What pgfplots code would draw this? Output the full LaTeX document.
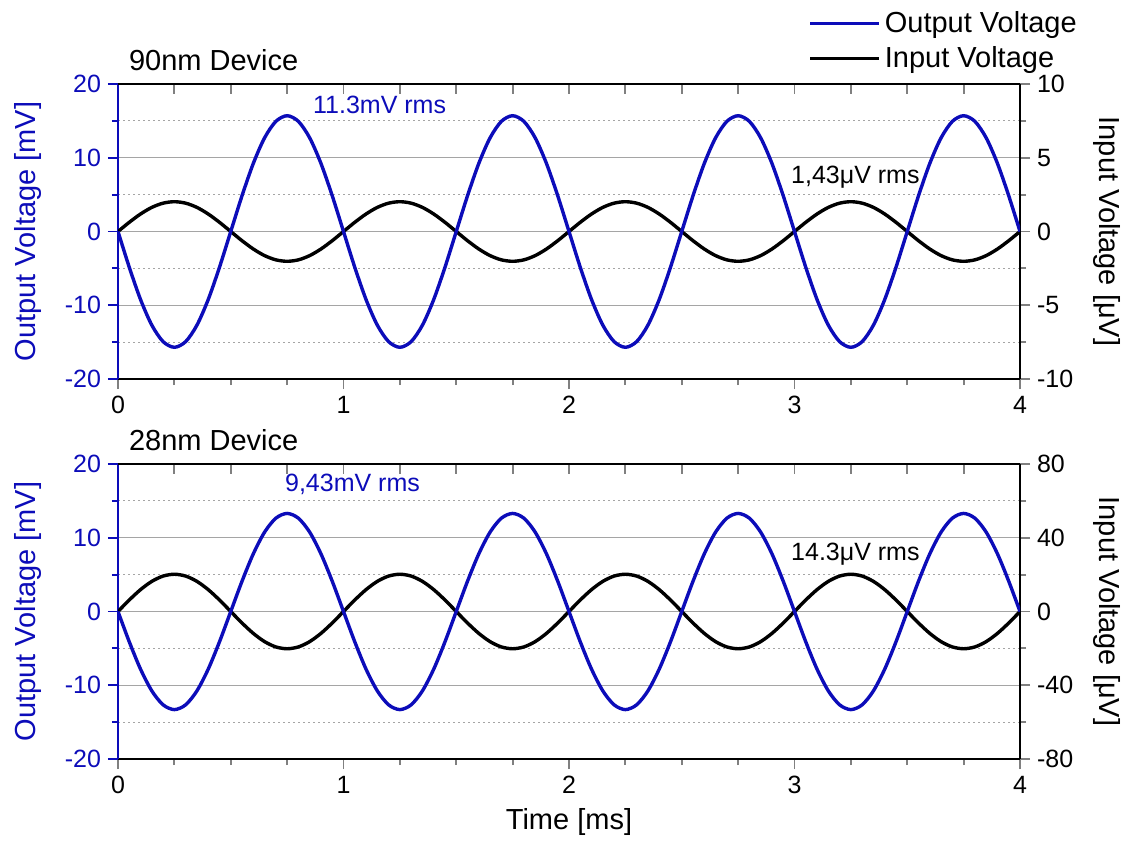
\documentclass[border=0pt]{standalone}
\usepackage{fontspec}
\setmainfont{Liberation Sans}
\usepackage{pgfplots}
\usepackage{pgfplotstable}
\pgfplotsset{compat=1.18}

\definecolor{outblue}{RGB}{12,12,185}
\definecolor{gridgray}{RGB}{165,165,165}

% 90 nm device: time [ms], output [mV], input [uV]
\pgfplotstableread{
t vout vin
0.00 0 0
0.05 -4.85 0.624
0.10 -9.23 1.187
0.15 -12.70 1.634
0.20 -14.93 1.921
0.25 -15.70 2.020
0.30 -14.93 1.921
0.35 -12.70 1.634
0.40 -9.23 1.187
0.45 -4.85 0.624
0.50 0 0
0.55 4.85 -0.624
0.60 9.23 -1.187
0.65 12.70 -1.634
0.70 14.93 -1.921
0.75 15.70 -2.020
0.80 14.93 -1.921
0.85 12.70 -1.634
0.90 9.23 -1.187
0.95 4.85 -0.624
1.00 0 0
1.05 -4.85 0.624
1.10 -9.23 1.187
1.15 -12.70 1.634
1.20 -14.93 1.921
1.25 -15.70 2.020
1.30 -14.93 1.921
1.35 -12.70 1.634
1.40 -9.23 1.187
1.45 -4.85 0.624
1.50 0 0
1.55 4.85 -0.624
1.60 9.23 -1.187
1.65 12.70 -1.634
1.70 14.93 -1.921
1.75 15.70 -2.020
1.80 14.93 -1.921
1.85 12.70 -1.634
1.90 9.23 -1.187
1.95 4.85 -0.624
2.00 0 0
2.05 -4.85 0.624
2.10 -9.23 1.187
2.15 -12.70 1.634
2.20 -14.93 1.921
2.25 -15.70 2.020
2.30 -14.93 1.921
2.35 -12.70 1.634
2.40 -9.23 1.187
2.45 -4.85 0.624
2.50 0 0
2.55 4.85 -0.624
2.60 9.23 -1.187
2.65 12.70 -1.634
2.70 14.93 -1.921
2.75 15.70 -2.020
2.80 14.93 -1.921
2.85 12.70 -1.634
2.90 9.23 -1.187
2.95 4.85 -0.624
3.00 0 0
3.05 -4.85 0.624
3.10 -9.23 1.187
3.15 -12.70 1.634
3.20 -14.93 1.921
3.25 -15.70 2.020
3.30 -14.93 1.921
3.35 -12.70 1.634
3.40 -9.23 1.187
3.45 -4.85 0.624
3.50 0 0
3.55 4.85 -0.624
3.60 9.23 -1.187
3.65 12.70 -1.634
3.70 14.93 -1.921
3.75 15.70 -2.020
3.80 14.93 -1.921
3.85 12.70 -1.634
3.90 9.23 -1.187
3.95 4.85 -0.624
4.00 0 0
}\topdata

% 28 nm device: time [ms], output [mV], input [uV]
\pgfplotstableread{
t vout vin
0.00 0 0
0.05 -4.11 6.24
0.10 -7.82 11.87
0.15 -10.76 16.34
0.20 -12.65 19.21
0.25 -13.30 20.20
0.30 -12.65 19.21
0.35 -10.76 16.34
0.40 -7.82 11.87
0.45 -4.11 6.24
0.50 0 0
0.55 4.11 -6.24
0.60 7.82 -11.87
0.65 10.76 -16.34
0.70 12.65 -19.21
0.75 13.30 -20.20
0.80 12.65 -19.21
0.85 10.76 -16.34
0.90 7.82 -11.87
0.95 4.11 -6.24
1.00 0 0
1.05 -4.11 6.24
1.10 -7.82 11.87
1.15 -10.76 16.34
1.20 -12.65 19.21
1.25 -13.30 20.20
1.30 -12.65 19.21
1.35 -10.76 16.34
1.40 -7.82 11.87
1.45 -4.11 6.24
1.50 0 0
1.55 4.11 -6.24
1.60 7.82 -11.87
1.65 10.76 -16.34
1.70 12.65 -19.21
1.75 13.30 -20.20
1.80 12.65 -19.21
1.85 10.76 -16.34
1.90 7.82 -11.87
1.95 4.11 -6.24
2.00 0 0
2.05 -4.11 6.24
2.10 -7.82 11.87
2.15 -10.76 16.34
2.20 -12.65 19.21
2.25 -13.30 20.20
2.30 -12.65 19.21
2.35 -10.76 16.34
2.40 -7.82 11.87
2.45 -4.11 6.24
2.50 0 0
2.55 4.11 -6.24
2.60 7.82 -11.87
2.65 10.76 -16.34
2.70 12.65 -19.21
2.75 13.30 -20.20
2.80 12.65 -19.21
2.85 10.76 -16.34
2.90 7.82 -11.87
2.95 4.11 -6.24
3.00 0 0
3.05 -4.11 6.24
3.10 -7.82 11.87
3.15 -10.76 16.34
3.20 -12.65 19.21
3.25 -13.30 20.20
3.30 -12.65 19.21
3.35 -10.76 16.34
3.40 -7.82 11.87
3.45 -4.11 6.24
3.50 0 0
3.55 4.11 -6.24
3.60 7.82 -11.87
3.65 10.76 -16.34
3.70 12.65 -19.21
3.75 13.30 -20.20
3.80 12.65 -19.21
3.85 10.76 -16.34
3.90 7.82 -11.87
3.95 4.11 -6.24
4.00 0 0
}\botdata

\pgfplotsset{
  panel/.style={
    scale only axis, width=451pt, height=147.5pt,
    xmin=0, xmax=4,
    /pgf/number format/assume math mode=true,
    tick label style={font=\fontsize{12.5}{14}\selectfont},
    major tick length=5pt, minor tick length=3pt,
    tick align=outside,
    axis line style={line width=1.2pt},
    tick style={line width=0.9pt},
  },
  leftpanel/.style={
    panel, ymin=-20, ymax=20,
    axis x line*=bottom, axis y line*=left,
    xtick={0,1,2,3,4}, minor x tick num=3,
    ytick={-20,-10,0,10,20}, minor y tick num=1,
    ymajorgrids, yminorgrids,
    major grid style={gridgray, line width=0.5pt},
    minor grid style={gridgray, line width=0.5pt, dash pattern=on 1pt off 1.5pt},
    y axis line style={outblue},
    yticklabel style={text=outblue},
    ytick style={outblue},
    ylabel={Output Voltage [mV]},
    every axis y label/.style={at={(axis description cs:-0.100,0.5)}, rotate=90, anchor=center,
      font=\fontsize{14.5}{17}\selectfont, text=outblue},
    clip=false,
  },
  rightpanel/.style={
    panel, axis x line=none, axis y line*=right,
    minor y tick num=1,
    ylabel={Input Voltage [μV]},
    every axis y label/.style={at={(axis description cs:1.0965,0.5)}, rotate=-90, anchor=center,
      font=\fontsize{14.5}{17}\selectfont},
  },
  toppanel/.style={
    panel, ymin=-20, ymax=20,
    axis y line=none, axis x line*=top,
    xtick={0.25,0.5,...,3.75}, xticklabels={},
    tick align=inside,
  },
  curve/.style={line width=1.7pt, smooth},
}

\begin{document}
\begin{tikzpicture}
\path[use as bounding box] (0,0) rectangle (564.5pt,421.5pt);

% ---------- 90 nm device ----------
\begin{axis}[leftpanel, at={(59pt,232pt)}, anchor=south west]
  \node[anchor=base west, font=\fontsize{14.5}{17}\selectfont]
    at (axis description cs:0.0044,1.047) {90nm Device};
\end{axis}
\begin{axis}[rightpanel, at={(59pt,232pt)}, anchor=south west,
    ymin=-10, ymax=10, ytick={-10,-5,0,5,10}]
  \addplot[black, curve] table[x=t, y=vin] {\topdata};
  \node[font=\fontsize{12.5}{14}\selectfont] at (axis cs:3.27,3.65) {1,43μV rms};
\end{axis}
\begin{axis}[toppanel, at={(59pt,232pt)}, anchor=south west,
    legend style={at={(axis description cs:0.765,1.03)}, anchor=south west,
      draw=none, fill=none, inner sep=0pt, font=\fontsize{14.5}{17}\selectfont,
      legend cell align=left, row sep=1.5pt},
    legend image code/.code={\draw[#1] (0pt,0pt) -- (34.5pt,0pt);}]
  \addplot[outblue, curve] table[x=t, y=vout] {\topdata};
  \addlegendentry{Output Voltage}
  \addlegendimage{black, line width=1.5pt}
  \addlegendentry{Input Voltage}
  \node[text=outblue, font=\fontsize{12.5}{14}\selectfont] at (axis cs:1.16,17.1) {11.3mV rms};
\end{axis}

% ---------- 28 nm device ----------
\begin{axis}[leftpanel, at={(59pt,42pt)}, anchor=south west,
    xlabel={Time [ms]},
    every axis x label/.style={at={(axis description cs:0.5,-0.2136)}, anchor=center,
      font=\fontsize{14.5}{17}\selectfont}]
  \node[anchor=base west, font=\fontsize{14.5}{17}\selectfont]
    at (axis description cs:0.0044,1.047) {28nm Device};
\end{axis}
\begin{axis}[rightpanel, at={(59pt,42pt)}, anchor=south west,
    ymin=-80, ymax=80, ytick={-80,-40,0,40,80}]
  \addplot[black, curve] table[x=t, y=vin] {\botdata};
  \node[font=\fontsize{12.5}{14}\selectfont] at (axis cs:3.27,31.2) {14.3μV rms};
\end{axis}
\begin{axis}[toppanel, at={(59pt,42pt)}, anchor=south west]
  \addplot[outblue, curve] table[x=t, y=vout] {\botdata};
  \node[text=outblue, font=\fontsize{12.5}{14}\selectfont] at (axis cs:1.04,17.3) {9,43mV rms};
\end{axis}
\end{tikzpicture}
\end{document}
